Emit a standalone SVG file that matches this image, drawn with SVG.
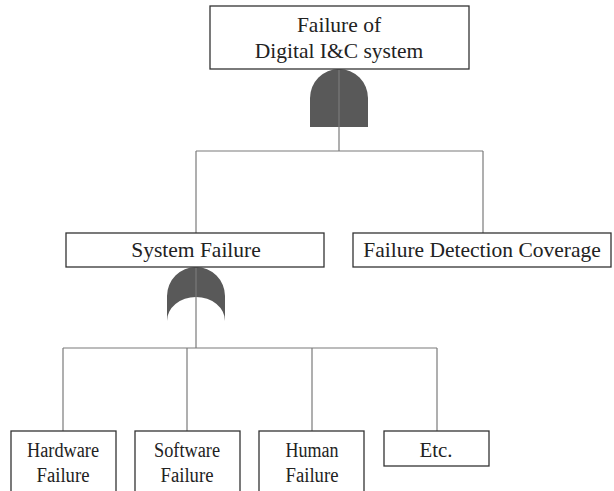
<svg xmlns="http://www.w3.org/2000/svg" width="614" height="491" viewBox="0 0 614 491">
  <style>
    .box { fill: #ffffff; stroke: #333333; stroke-width: 1.3; }
    .wire { fill: none; stroke: #7a7a7a; stroke-width: 1.2; }
    .gate { fill: #595959; stroke: none; }
    .label { font-family: "Liberation Serif", "Times New Roman", serif; font-size: 21.5px; fill: #222222; text-anchor: middle; }
    .small { font-size: 20px; }
  </style>
  <rect width="614" height="491" fill="#ffffff"/>

  <!-- gates -->
  <g id="and-gate">
    <path class="gate" d="M310,98 A29,29 0 0 1 368,98 L368,127 L310,127 Z"/>
  </g>
  <g id="or-gate">
    <path class="gate" d="M167,296 A29,29 0 0 1 225,296 L225,321 A29,24 0 0 0 167,321 Z"/>
  </g>

  <!-- connectors -->
  <g id="connectors">
    <path class="wire" d="M339,69 V151"/>
    <path class="wire" d="M196,151 H483"/>
    <path class="wire" d="M196,151 V233"/>
    <path class="wire" d="M483,151 V233"/>
    <path class="wire" d="M196,267 V348"/>
    <path class="wire" d="M63,348 H437"/>
    <path class="wire" d="M63,348 V431"/>
    <path class="wire" d="M187,348 V431"/>
    <path class="wire" d="M312,348 V431"/>
    <path class="wire" d="M437,348 V431"/>
  </g>

  <!-- nodes -->
  <g id="top-event">
    <rect class="box" x="210" y="6" width="259" height="63"/>
    <text class="label" x="339" y="32">Failure of</text>
    <text class="label" x="339" y="58">Digital I&amp;C system</text>
  </g>
  <g id="system-failure">
    <rect class="box" x="66" y="233" width="258" height="34"/>
    <text class="label" x="196" y="257">System Failure</text>
  </g>
  <g id="failure-detection-coverage">
    <rect class="box" x="353" y="233" width="258" height="34"/>
    <text class="label" x="482" y="257">Failure Detection Coverage</text>
  </g>
  <g id="hardware-failure">
    <rect class="box" x="11" y="431" width="105" height="70"/>
    <text class="label small" x="63" y="457" textLength="72" lengthAdjust="spacingAndGlyphs">Hardware</text>
    <text class="label small" x="63" y="482" textLength="53" lengthAdjust="spacingAndGlyphs">Failure</text>
  </g>
  <g id="software-failure">
    <rect class="box" x="135" y="431" width="105" height="70"/>
    <text class="label small" x="187" y="457" textLength="66" lengthAdjust="spacingAndGlyphs">Software</text>
    <text class="label small" x="187" y="482" textLength="53" lengthAdjust="spacingAndGlyphs">Failure</text>
  </g>
  <g id="human-failure">
    <rect class="box" x="259" y="431" width="105" height="70"/>
    <text class="label small" x="312" y="457" textLength="53" lengthAdjust="spacingAndGlyphs">Human</text>
    <text class="label small" x="312" y="482" textLength="53" lengthAdjust="spacingAndGlyphs">Failure</text>
  </g>
  <g id="etc">
    <rect class="box" x="384" y="431" width="105" height="35"/>
    <text class="label small" x="436" y="457" textLength="33" lengthAdjust="spacingAndGlyphs">Etc.</text>
  </g>
</svg>
